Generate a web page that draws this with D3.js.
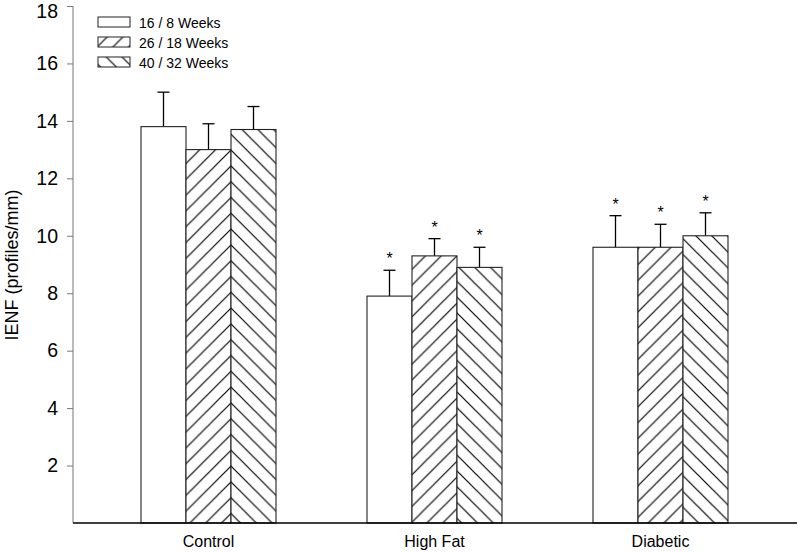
<!DOCTYPE html>
<html>
<head>
<meta charset="utf-8">
<script src="https://cdn.jsdelivr.net/npm/d3@7"></script>
<style>
  html, body { margin: 0; padding: 0; background: #fff; }
  svg { display: block; font-family: "Liberation Sans", Arial, sans-serif; }
</style>
</head>
<body>
<svg id="chart" width="797" height="552"></svg>
<script>
// ---- data ----
const groups = ["Control", "High Fat", "Diabetic"];
const seriesNames = ["16 / 8 Weeks", "26 / 18 Weeks", "40 / 32 Weeks"];
const means = [
  [13.8, 13.0, 13.7],   // Control
  [7.9, 9.3, 8.9],      // High Fat
  [9.6, 9.6, 10.0]      // Diabetic
];
const errUpper = [
  [1.2, 0.9, 0.8],
  [0.9, 0.6, 0.7],
  [1.1, 0.8, 0.8]
];
const significant = [
  [false, false, false],
  [true, true, true],
  [true, true, true]
];
const yTicks = [2, 4, 6, 8, 10, 12, 14, 16, 18];
const yLabel = "IENF (profiles/mm)";

// ---- layout ----
const svg = d3.select("#chart");
const axisX = 73, baseY = 523, topY = 6;
const y = d3.scaleLinear().domain([0, 18]).range([baseY, topY]);
const x0 = d3.scaleBand().domain(groups).range([95.5, 773.5]).padding(0);
const x1 = d3.scaleBand().domain(d3.range(seriesNames.length))
  .range([(x0.bandwidth() - 135) / 2, (x0.bandwidth() + 135) / 2]);

// ---- patterns ----
const P = 15.8;
const defs = svg.append("defs");
const apexX = x0("Control") + x1(2), apexY = 513.5;
const fwdOff = ((apexX + apexY) % P + P) % P;
const bwdOff = ((apexX - apexY) % P + P) % P;
const pf = defs.append("pattern").attr("id", "hatchF")
  .attr("patternUnits", "userSpaceOnUse").attr("width", P).attr("height", P)
  .attr("patternTransform", `translate(${fwdOff},0)`);
pf.append("path").attr("d", `M0,${P} L${P},0 M${-P/2},${P/2} L${P/2},${-P/2} M${P/2},${P*1.5} L${P*1.5},${P/2}`)
  .attr("stroke", "#000").attr("stroke-width", 1.2).attr("fill", "none");
const pb = defs.append("pattern").attr("id", "hatchB")
  .attr("patternUnits", "userSpaceOnUse").attr("width", P).attr("height", P)
  .attr("patternTransform", `translate(${bwdOff},0)`);
pb.append("path").attr("d", `M0,0 L${P},${P} M${-P/2},${P/2} L${P/2},${P*1.5} M${P/2},${-P/2} L${P*1.5},${P/2}`)
  .attr("stroke", "#000").attr("stroke-width", 1.2).attr("fill", "none");
const fills = ["#fff", "url(#hatchF)", "url(#hatchB)"];

// ---- bars ----
const g = svg.append("g");
groups.forEach((grp, gi) => {
  means[gi].forEach((v, si) => {
    const bx = x0(grp) + x1(si);
    const bw = x1.bandwidth();
    const cx = bx + bw / 2;
    const ey = y(v + errUpper[gi][si]);
    g.append("line").attr("x1", cx).attr("x2", cx).attr("y1", y(v)).attr("y2", ey)
      .attr("stroke", "#000").attr("stroke-width", 1.3);
    g.append("line").attr("x1", cx - 6).attr("x2", cx + 6).attr("y1", ey).attr("y2", ey)
      .attr("stroke", "#000").attr("stroke-width", 1.3);
    g.append("rect").attr("x", bx).attr("y", y(v))
      .attr("width", bw).attr("height", y(0) - y(v))
      .attr("fill", "#fff").attr("stroke", "none");
    g.append("rect").attr("x", bx).attr("y", y(v))
      .attr("width", bw).attr("height", y(0) - y(v))
      .attr("fill", fills[si]).attr("stroke", "#222").attr("stroke-width", 1.1);
    if (significant[gi][si]) {
      g.append("text").attr("x", cx).attr("y", ey - 6)
        .attr("text-anchor", "middle").attr("font-size", 16).text("*");
    }
  });
});

// ---- y axis ----
const yAxis = d3.axisLeft(y).tickValues(yTicks).tickSize(6).tickPadding(9).tickFormat(d3.format("d"));
const ya = svg.append("g").attr("transform", `translate(${axisX},0)`).call(yAxis);
ya.select(".domain").attr("d", `M0,${topY}V${baseY}`).attr("stroke", "#777");
ya.selectAll(".tick line").attr("stroke", "#777");
ya.selectAll(".tick text").attr("font-size", 19.5).attr("fill", "#000")
  .attr("font-family", "Liberation Sans, Arial, sans-serif")
  .attr("dy", d => d === 18 ? "0.6em" : "0.32em");

// ---- x axis ----
svg.append("line").attr("x1", axisX).attr("x2", 797).attr("y1", baseY).attr("y2", baseY)
  .attr("stroke", "#000").attr("stroke-width", 1.5);
groups.forEach(grp => {
  svg.append("text").attr("x", x0(grp) + x0.bandwidth() / 2).attr("y", 547)
    .attr("text-anchor", "middle").attr("font-size", 16).text(grp);
});

// ---- y label ----
svg.append("text").attr("transform", `translate(18,265) rotate(-90)`)
  .attr("text-anchor", "middle").attr("font-size", 18).text(yLabel);

// ---- legend ----
const leg = svg.append("g");
seriesNames.forEach((name, i) => {
  const ly = 17 + i * 20;
  leg.append("rect").attr("x", 98).attr("y", ly).attr("width", 32).attr("height", 10)
    .attr("fill", "#fff");
  leg.append("rect").attr("x", 98).attr("y", ly).attr("width", 32).attr("height", 10)
    .attr("fill", fills[i]).attr("stroke", "#222").attr("stroke-width", 1);
  leg.append("text").attr("x", 139).attr("y", ly + 11).attr("font-size", 14).text(name);
});
</script>
</body>
</html>
